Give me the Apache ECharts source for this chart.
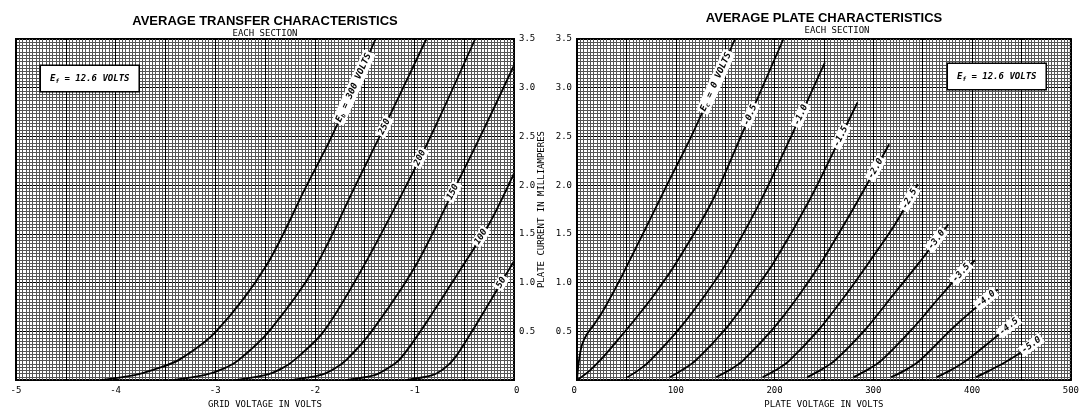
<!DOCTYPE html>
<html>
<head>
<meta charset="utf-8">
<script src="https://cdn.jsdelivr.net/npm/echarts@6/dist/echarts.min.js"></script>
<style>
  html, body { margin: 0; padding: 0; background: #fff; }
  #chart { width: 1082px; height: 414px; }
</style>
</head>
<body>
<div id="chart"></div>
<script>
// transfer: grid voltage (V) vs plate current (mA), one curve per plate voltage
const ebValues = [300, 250, 200, 150, 100, 50];
const eb300 = [[-4.15, 0], [-3.81, 0.05], [-3.58, 0.12], [-3.36, 0.21], [-2.99, 0.5], [-2.49, 1.17], [-2.08, 2.0], [-1.83, 2.5], [-1.39, 3.5]];
const eb250 = [[-3.43, 0], [-3.11, 0.05], [-2.91, 0.12], [-2.76, 0.21], [-2.46, 0.5], [-1.99, 1.17], [-1.59, 2.0], [-1.31, 2.58], [-0.88, 3.5]];
const eb200 = [[-2.8, 0], [-2.5, 0.05], [-2.33, 0.12], [-2.2, 0.21], [-1.91, 0.5], [-1.51, 1.17], [-1.08, 2.0], [-0.8, 2.58], [-0.39, 3.5]];
const eb150 = [[-2.24, 0], [-1.95, 0.05], [-1.8, 0.12], [-1.68, 0.21], [-1.43, 0.5], [-0.99, 1.17], [-0.58, 2.0], [-0.3, 2.58], [0, 3.23]];
const eb100 = [[-1.69, 0], [-1.4, 0.05], [-1.27, 0.12], [-1.15, 0.21], [-0.94, 0.5], [-0.56, 1.1], [-0.24, 1.62], [0, 2.12]];
const eb50 = [[-1.09, 0], [-0.82, 0.05], [-0.7, 0.12], [-0.6, 0.22], [-0.44, 0.47], [-0.25, 0.79], [-0.1, 1.05], [0, 1.22]];
const transferCurves = [eb300, eb250, eb200, eb150, eb100, eb50];
const transferLabelAt = [3.0, 2.6, 2.28, 1.93, 1.47, 1.0];

// plate: plate voltage (V) vs plate current (mA), one curve per grid voltage
const ecValues = ['0', '-0.5', '-1.0', '-1.5', '-2.0', '-2.5', '-3.0', '-3.5', '-4.0', '-4.5', '-5.0'];
const ec00 = [[0, 0], [2, 0.2], [5, 0.36], [10, 0.47], [18, 0.58], [28, 0.74], [46, 1.08], [91, 2.0], [118, 2.55], [160, 3.5]];
const ec05 = [[0, 0], [12, 0.09], [25, 0.22], [42, 0.42], [60, 0.64], [77, 0.86], [99, 1.18], [136, 1.82], [168, 2.55], [209, 3.5]];
const ec10 = [[51, 0.03], [62, 0.1], [74, 0.2], [103, 0.52], [128, 0.85], [150, 1.18], [184, 1.8], [219, 2.55], [251, 3.26]];
const ec15 = [[94, 0.03], [106, 0.1], [120, 0.2], [150, 0.52], [176, 0.87], [200, 1.22], [235, 1.84], [271, 2.58], [284, 2.85]];
const ec20 = [[141, 0.03], [154, 0.1], [168, 0.2], [198, 0.52], [224, 0.86], [248, 1.22], [282, 1.8], [316, 2.42]];
const ec25 = [[188, 0.03], [201, 0.1], [215, 0.2], [245, 0.52], [271, 0.86], [295, 1.2], [322, 1.6], [345, 2.01]];
const ec30 = [[233, 0.03], [246, 0.1], [261, 0.2], [292, 0.52], [319, 0.86], [346, 1.2], [376, 1.6]];
const ec35 = [[280, 0.03], [293, 0.1], [308, 0.2], [339, 0.52], [367, 0.85], [389, 1.1], [403, 1.23]];
const ec40 = [[318, 0.03], [332, 0.1], [347, 0.2], [380, 0.53], [408, 0.78], [426, 0.93]];
const ec45 = [[364, 0.03], [378, 0.1], [394, 0.2], [425, 0.45], [447, 0.63]];
const ec50 = [[404, 0.03], [418, 0.1], [433, 0.18], [452, 0.3], [468, 0.42]];
const plateCurves = [ec00, ec05, ec10, ec15, ec20, ec25, ec30, ec35, ec40, ec45, ec50];
const plateLabelAt = [3.06, 2.72, 2.72, 2.5, 2.17, 1.86, 1.44, 1.1, 0.83, 0.55, 0.36];

const mono = "DejaVu Sans Mono";
const chart = echarts.init(document.getElementById("chart"));

const axisText = { color: "#000", fontFamily: mono, fontSize: 9 };
const majorLine = { show: true, lineStyle: { color: "#000", width: 1 } };
const minorLine = { show: true, lineStyle: { color: "#555", width: 1 } };

const yAxisCommon = {
  type: "value",
  min: 0,
  max: 3.5,
  interval: 0.5,
  axisLine: { show: false },
  axisTick: { show: false },
  axisLabel: { ...axisText, margin: 5, formatter: (v) => (v === 0 ? "" : v.toFixed(1)) },
  splitLine: majorLine,
  minorTick: { show: false, splitNumber: 15 },
  minorSplitLine: minorLine,
};

const lineSeries = (data, idx) => ({
  type: "line",
  xAxisIndex: idx,
  yAxisIndex: idx,
  data,
  smooth: 0.3,
  symbol: "none",
  silent: true,
  z: 3,
  lineStyle: { color: "#000", width: 1.8 },
});

const textEl = (text, x, y, font) => ({
  type: "text",
  x,
  y,
  z: 20,
  style: { text, font, fill: "#000", align: "center", verticalAlign: "middle", textAlign: "center", textVerticalAlign: "middle" },
});

const efBox = (x, y) => ({
  type: "text",
  x,
  y,
  z: 20,
  style: {
    text: "{e|E}{s|f}{e| = 12.6 VOLTS}",
    rich: {
      e: { fontFamily: mono, fontSize: 9, fontStyle: "italic", fontWeight: "bold", fill: "#000" },
      s: { fontFamily: mono, fontSize: 6, fontStyle: "italic", fontWeight: "bold", fill: "#000", padding: [5, 0, 0, 0] },
    },
    backgroundColor: "#fff",
    borderColor: "#000",
    borderWidth: 1.5,
    padding: [7, 9, 7, 9],
  },
});

chart.setOption({
  animation: false,
  backgroundColor: "#fff",
  grid: [
    { left: 16, right: 568, top: 39, bottom: 25, show: true, backgroundColor: "#fff", borderColor: "#000", borderWidth: 2 },
    { left: 577, right: 7, top: 39, bottom: 25, show: true, backgroundColor: "#fff", borderColor: "#000", borderWidth: 2 },
  ],
  xAxis: [
    {
      gridIndex: 0,
      type: "value",
      min: -5,
      max: 0,
      interval: 0.5,
      axisLine: { show: false },
      axisTick: { show: false },
      axisLabel: { ...axisText, margin: 6, alignMaxLabel: "left", formatter: (v) => (Number.isInteger(v) ? String(v) : "") },
      splitLine: majorLine,
      minorTick: { show: false, splitNumber: 15 },
      minorSplitLine: minorLine,
      name: "GRID VOLTAGE IN VOLTS",
      nameLocation: "middle",
      nameGap: 15,
      nameTextStyle: { ...axisText },
    },
    {
      gridIndex: 1,
      type: "value",
      min: 0,
      max: 500,
      interval: 50,
      axisLine: { show: false },
      axisTick: { show: false },
      axisLabel: { ...axisText, margin: 6, alignMinLabel: "right", formatter: (v) => (v % 100 === 0 ? String(v) : "") },
      splitLine: majorLine,
      minorTick: { show: false, splitNumber: 15 },
      minorSplitLine: minorLine,
      name: "PLATE VOLTAGE IN VOLTS",
      nameLocation: "middle",
      nameGap: 15,
      nameTextStyle: { ...axisText },
    },
  ],
  yAxis: [
    { ...yAxisCommon, gridIndex: 0, position: "right" },
    {
      ...yAxisCommon,
      gridIndex: 1,
      position: "left",
      name: "PLATE CURRENT IN MILLIAMPERES",
      nameLocation: "middle",
      nameRotate: 90,
      nameGap: 31,
      nameTextStyle: { ...axisText },
    },
  ],
  series: [...transferCurves.map((c) => lineSeries(c, 0)), ...plateCurves.map((c) => lineSeries(c, 1))],
});

// place a rotated label on a curve at the given current, following the curve slope
function curveLabel(curve, amps, gridIndex, text) {
  let k = 1;
  while (k < curve.length - 1 && curve[k][1] < amps) k++;
  const [v0, i0] = curve[k - 1];
  const [v1, i1] = curve[k];
  const t = (amps - i0) / (i1 - i0);
  const p = chart.convertToPixel({ gridIndex }, [v0 + t * (v1 - v0), amps]);
  const a = chart.convertToPixel({ gridIndex }, curve[k - 1]);
  const b = chart.convertToPixel({ gridIndex }, curve[k]);
  return {
    type: "text",
    x: p[0],
    y: p[1],
    rotation: Math.atan2(a[1] - b[1], b[0] - a[0]),
    z: 10,
    style: {
      text,
      rich: {
        n: { fontFamily: mono, fontSize: 9, fontStyle: "italic", fontWeight: "bold", fill: "#000" },
        s: { fontFamily: mono, fontSize: 6, fontStyle: "italic", fontWeight: "bold", fill: "#000", padding: [5, 0, 0, 0] },
      },
      fontFamily: mono,
      fontSize: 9,
      fontStyle: "italic",
      fontWeight: "bold",
      fill: "#000",
      backgroundColor: "#fff",
      padding: [1, 2, 1, 2],
      align: "center",
      verticalAlign: "middle",
      textAlign: "center",
      textVerticalAlign: "middle",
    },
  };
}

const labels = [];
transferCurves.forEach((c, k) => {
  const txt = k === 0 ? "{n|E}{s|b}{n| = " + ebValues[k] + " VOLTS}" : "{n|" + ebValues[k] + "}";
  labels.push(curveLabel(c, transferLabelAt[k], 0, txt));
});
plateCurves.forEach((c, k) => {
  const txt = k === 0 ? "{n|E}{s|c}{n| = " + ecValues[k] + " VOLTS}" : "{n|" + ecValues[k] + "}";
  labels.push(curveLabel(c, plateLabelAt[k], 1, txt));
});

chart.setOption({
  graphic: [
    textEl("AVERAGE TRANSFER CHARACTERISTICS", 265, 21, "bold 13px 'Liberation Sans'"),
    textEl("EACH SECTION", 265, 34, "9px '" + mono + "'"),
    textEl("AVERAGE PLATE CHARACTERISTICS", 824, 18, "bold 13px 'Liberation Sans'"),
    textEl("EACH SECTION", 837, 31, "9px '" + mono + "'"),
    efBox(41, 66),
    efBox(948, 64),
    ...labels,
  ],
});
</script>
</body>
</html>
